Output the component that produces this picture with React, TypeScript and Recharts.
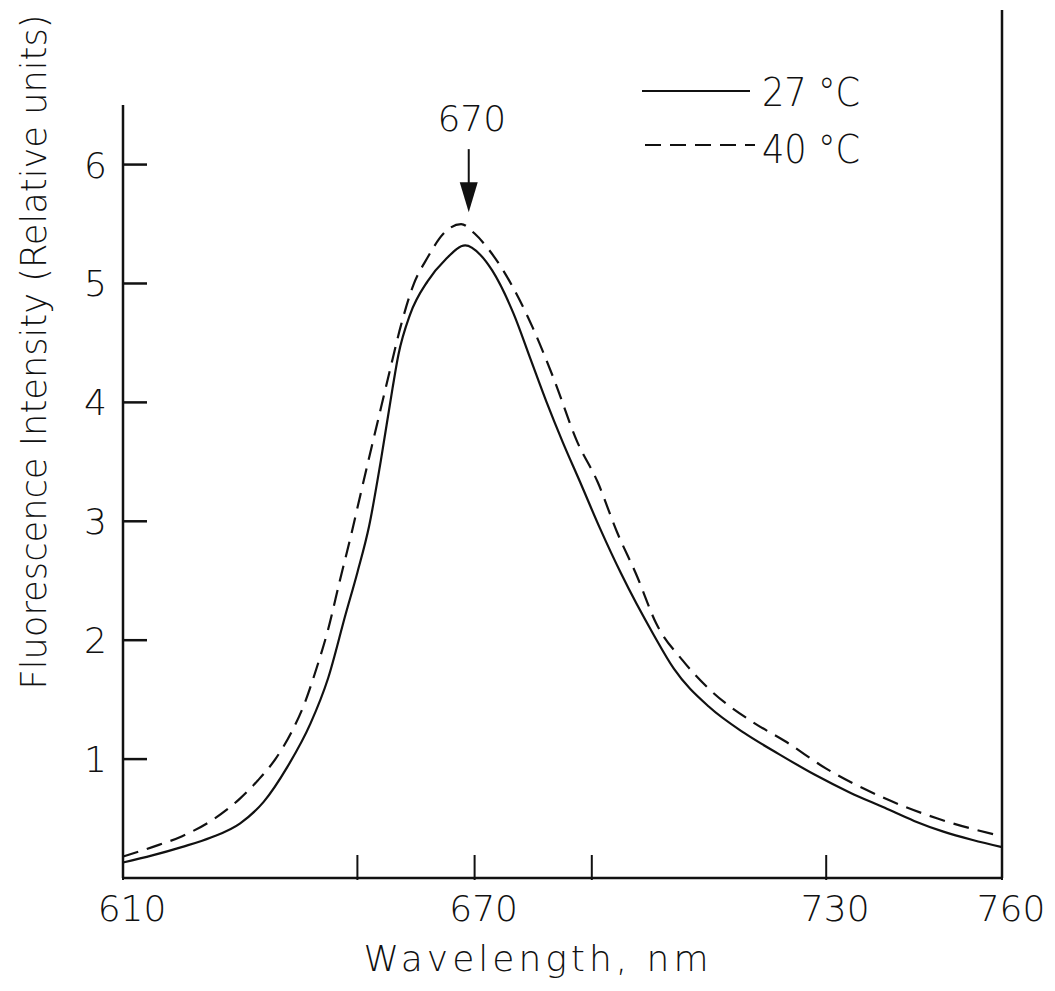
import React from 'react';
import {
  LineChart,
  Line,
  XAxis,
  YAxis,
  ReferenceLine,
  ReferenceDot,
  Legend,
} from 'recharts';

// emission spectra (nm, relative units)
const wavelength27 = [610, 615, 620, 625, 630, 634, 638, 642, 645, 648, 650, 652, 654, 656, 657, 659, 662, 665, 668.4, 671, 673, 676.7, 679.5, 682.3, 685, 688, 691.4, 695, 700.5, 704, 710, 716, 722, 728, 734, 740, 745, 750, 755, 760];
const intensity27 = [0.13, 0.19, 0.26, 0.34, 0.46, 0.64, 0.93, 1.3, 1.68, 2.22, 2.57, 2.96, 3.51, 4.12, 4.4, 4.74, 5.02, 5.2, 5.32, 5.24, 5.11, 4.74, 4.37, 4.0, 3.67, 3.33, 2.94, 2.56, 2.05, 1.76, 1.44, 1.22, 1.04, 0.87, 0.72, 0.59, 0.48, 0.39, 0.32, 0.26];

const wavelength40 = [610, 615, 620, 625, 630, 633, 636, 639, 641, 643, 645, 647, 649, 650.5, 652.5, 654, 655.5, 657.5, 659.5, 662, 664.7, 667.7, 670, 672.5, 675, 680, 683.5, 687.5, 691, 694.3, 697.7, 701, 705.5, 710, 717.5, 723, 730, 740, 749, 760];
const intensity40 = [0.18, 0.26, 0.35, 0.48, 0.67, 0.82, 1.0, 1.25, 1.47, 1.76, 2.09, 2.5, 2.9, 3.22, 3.64, 3.95, 4.26, 4.66, 4.98, 5.22, 5.42, 5.5, 5.42, 5.28, 5.1, 4.62, 4.2, 3.67, 3.33, 2.91, 2.54, 2.14, 1.83, 1.59, 1.31, 1.15, 0.92, 0.67, 0.5, 0.35];

const seriesNames = ['27 °C', '40 °C'];
const yTicks = [1, 2, 3, 4, 5, 6];
const xLabelTicks = [610, 670, 730, 760];
const xMinorTicks = [650, 690];
const xTitle = 'Wavelength, nm';
const yTitle = 'Fluorescence Intensity (Relative units)';
const peakLabel = '670';
const peakArrowX = 669;
const peakArrowTip = 5.6;
const yAxisTop = 6.5;

const data27 = wavelength27.map((nm, i) => ({ nm, v: intensity27[i] }));
const data40 = wavelength40.map((nm, i) => ({ nm, v: intensity40[i] }));

const FONT = '"DejaVu Sans", sans-serif';
const INK = '#111';

const YTick = ({ x, y, payload }: any) => (
  <g>
    <line x1={x + 14} y1={y} x2={x + 38} y2={y} stroke={INK} strokeWidth={2.5} />
    <text x={x - 2} y={y + 13} textAnchor="end" fontSize={36} fontFamily={FONT} fontWeight={200} fill={INK}>
      {payload.value}
    </text>
  </g>
);

const XTick = ({ x, y, payload }: any) => {
  const labelled = xLabelTicks.includes(payload.value);
  return (
    <g>
      <line x1={x} y1={y} x2={x} y2={y - 25} stroke={INK} strokeWidth={2} />
      {labelled && (
        <text x={x + 9} y={y + 41} textAnchor="middle" fontSize={36} fontFamily={FONT} fontWeight={200} fill={INK}>
          {payload.value}
        </text>
      )}
    </g>
  );
};

const XTitle = ({ viewBox }: any) => (
  <text
    x={viewBox.x + 413}
    y={viewBox.y + 93}
    textAnchor="middle"
    fontSize={36}
    fontFamily={FONT}
    fontWeight={200}
    fill={INK}
    textLength={345}
    lengthAdjust="spacing"
  >
    {xTitle}
  </text>
);

const YTitle = ({ viewBox }: any) => {
  const cx = viewBox.x - 10;
  const cy = viewBox.y + 342;
  return (
    <text
      transform={`translate(${cx},${cy}) rotate(-90)`}
      textAnchor="middle"
      dominantBaseline="central"
      fontSize={36}
      fontFamily={FONT}
      fontWeight={200}
      fill={INK}
      textLength={675}
      lengthAdjust="spacingAndGlyphs"
    >
      {yTitle}
    </text>
  );
};

const PeakArrow = ({ cx, cy }: any) => (
  <g>
    <line x1={cx} y1={cy - 63} x2={cx} y2={cy - 26} stroke={INK} strokeWidth={2} />
    <polygon points={`${cx - 9},${cy - 30} ${cx + 9},${cy - 30} ${cx},${cy}`} fill={INK} />
    <text x={cx + 3} y={cy - 81} textAnchor="middle" fontSize={36} fontFamily={FONT} fontWeight={200} fill={INK}>
      {peakLabel}
    </text>
  </g>
);

const renderLegend = (props: any) => {
  const { payload } = props;
  return (
    <svg width={250} height={130}>
      {payload.map((entry: any, i: number) => (
        <g key={entry.value}>
          <line
            x1={12 + i * 3}
            y1={41 + i * 54}
            x2={120 + i * 5}
            y2={41 + i * 54}
            stroke={INK}
            strokeWidth={2}
            strokeDasharray={entry.payload.strokeDasharray}
          />
          <text x={132} y={56 + i * 57} fontSize={39} fontFamily={FONT} fontWeight={200} fill={INK} textLength={98} lengthAdjust="spacingAndGlyphs">
            {entry.value}
          </text>
        </g>
      ))}
    </svg>
  );
};

export default function App() {
  return (
    <div style={{ position: 'absolute', left: 0, top: 0, width: 1055, height: 991, background: '#fff' }}>
      <LineChart width={1055} height={991} margin={{ top: 10, right: 53, left: 43, bottom: 53 }}>
        <XAxis
          type="number"
          dataKey="nm"
          domain={[610, 760]}
          ticks={[...xLabelTicks, ...xMinorTicks].sort((a, b) => a - b)}
          tick={<XTick />}
          tickLine={false}
          tickSize={0}
          axisLine={{ stroke: INK, strokeWidth: 2.5 }}
          height={60}
          label={<XTitle />}
        />
        <YAxis
          type="number"
          domain={[0, 7.3]}
          ticks={yTicks}
          tick={<YTick />}
          tickLine={false}
          tickSize={0}
          tickMargin={14}
          axisLine={false}
          width={80}
          allowDataOverflow
          label={<YTitle />}
        />
        <ReferenceLine
          segment={[{ x: 610, y: 0 }, { x: 610, y: yAxisTop }]}
          stroke={INK}
          strokeWidth={2.5}
          ifOverflow="visible"
        />
        <ReferenceLine x={760} stroke={INK} strokeWidth={2.5} />
        <Legend
          layout="vertical"
          align="center"
          verticalAlign="middle"
          content={renderLegend}
          wrapperStyle={{ left: 630, top: 50, width: 250, height: 130 }}
        />
        <Line
          data={data27}
          dataKey="v"
          name={seriesNames[0]}
          type="monotone"
          stroke={INK}
          strokeWidth={2.2}
          dot={false}
          isAnimationActive={false}
        />
        <Line
          data={data40}
          dataKey="v"
          name={seriesNames[1]}
          type="monotone"
          stroke={INK}
          strokeWidth={2.2}
          strokeDasharray="16 9"
          dot={false}
          isAnimationActive={false}
        />
        <ReferenceDot x={peakArrowX} y={peakArrowTip} r={0} shape={<PeakArrow />} ifOverflow="visible" />
      </LineChart>
    </div>
  );
}
